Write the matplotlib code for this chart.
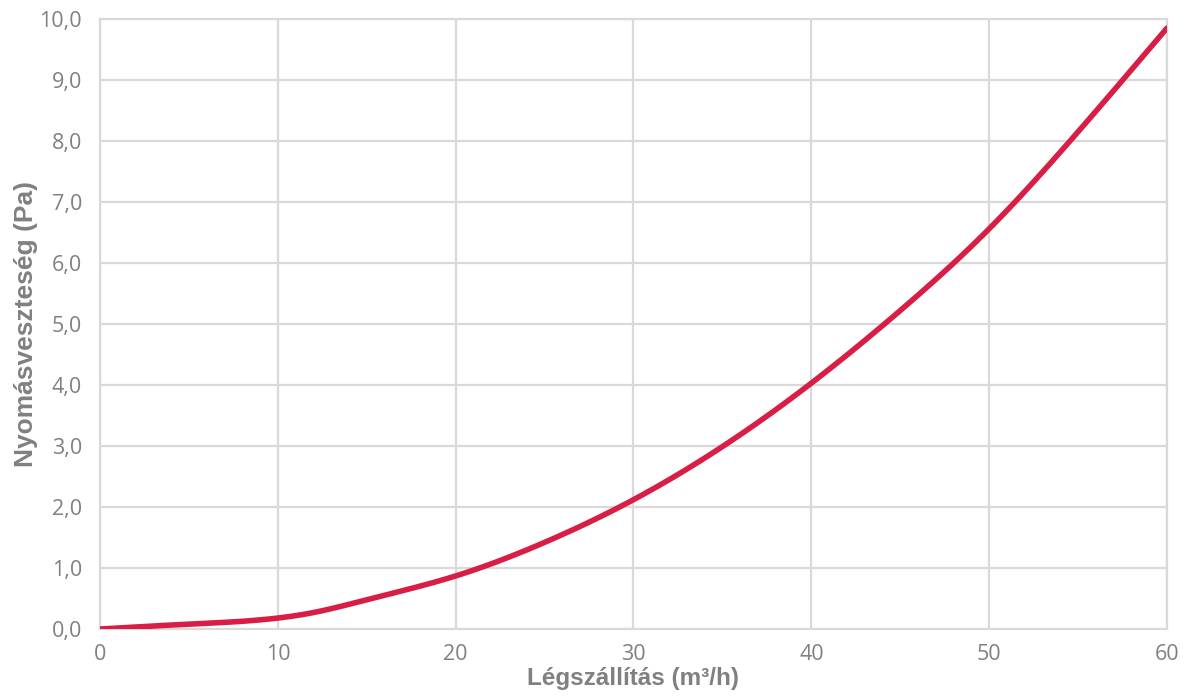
import numpy as np
import matplotlib
matplotlib.use("Agg")
from matplotlib import pyplot as plt
from matplotlib.ticker import FuncFormatter

# values
flow = [0, 5, 10, 12, 15, 20, 25, 30, 35, 40, 45, 50, 55, 60]
pressure = [0.0, 0.08, 0.18, 0.27, 0.48, 0.87, 1.42, 2.12, 2.99, 4.03, 5.22, 6.56, 8.15, 9.85]

x_ticks = [0, 10, 20, 30, 40, 50, 60]
y_ticks = [0, 1, 2, 3, 4, 5, 6, 7, 8, 9, 10]

grey = '#808080'
grid_col = '#d9d9d9'
line_col = '#d81e45'


def natural_spline(x, y, xs):
    # plain natural cubic spline, like Excel's smoothed line
    x = np.asarray(x, float)
    y = np.asarray(y, float)
    n = len(x)
    h = np.diff(x)
    A = np.zeros((n, n))
    b = np.zeros(n)
    A[0, 0] = A[-1, -1] = 1
    for i in range(1, n - 1):
        A[i, i - 1] = h[i - 1]
        A[i, i] = 2 * (h[i - 1] + h[i])
        A[i, i + 1] = h[i]
        b[i] = 3 * ((y[i + 1] - y[i]) / h[i] - (y[i] - y[i - 1]) / h[i - 1])
    c = np.linalg.solve(A, b)
    idx = np.clip(np.searchsorted(x, xs) - 1, 0, n - 2)
    dx = xs - x[idx]
    bb = (y[idx + 1] - y[idx]) / h[idx] - h[idx] * (2 * c[idx] + c[idx + 1]) / 3
    d = (c[idx + 1] - c[idx]) / (3 * h[idx])
    return y[idx] + bb * dx + c[idx] * dx ** 2 + d * dx ** 3


fig = plt.figure(figsize=(11.84, 7), dpi=100)
ax = fig.add_axes([0.0845, 0.1014, 0.9011, 0.8715])

xs = np.linspace(flow[0], flow[-1], 600)
ax.plot(xs, natural_spline(flow, pressure, xs), color=line_col, lw=4,
        solid_capstyle='round', zorder=3)

ax.set_xlim(0, 60)
ax.set_ylim(0, 10)
ax.set_xticks(x_ticks)
ax.set_yticks(y_ticks)
ax.yaxis.set_major_formatter(FuncFormatter(lambda v, p: f"{v:.1f}".replace('.', ',')))
ax.grid(True, color=grid_col, lw=1.6)
ax.set_axisbelow(True)
for s in ax.spines.values():
    s.set_color(grid_col)
    s.set_linewidth(1.6)
ax.tick_params(length=0, labelsize=15.5, colors=grey)
ax.tick_params(axis='y', pad=13)
ax.tick_params(axis='x', pad=11)
for lab in ax.get_xticklabels() + ax.get_yticklabels():
    lab.set_fontfamily('Open Sans')

ax.set_xlabel('Légszállítás (m³/h)', fontsize=17.5, fontweight='bold', color=grey,
              fontfamily='Liberation Sans', labelpad=1)
ax.set_ylabel('Nyomásveszteség (Pa)', fontsize=19, fontweight='bold', color=grey,
              fontfamily='Liberation Sans', labelpad=1)

fig.savefig('out.png', dpi=100)
